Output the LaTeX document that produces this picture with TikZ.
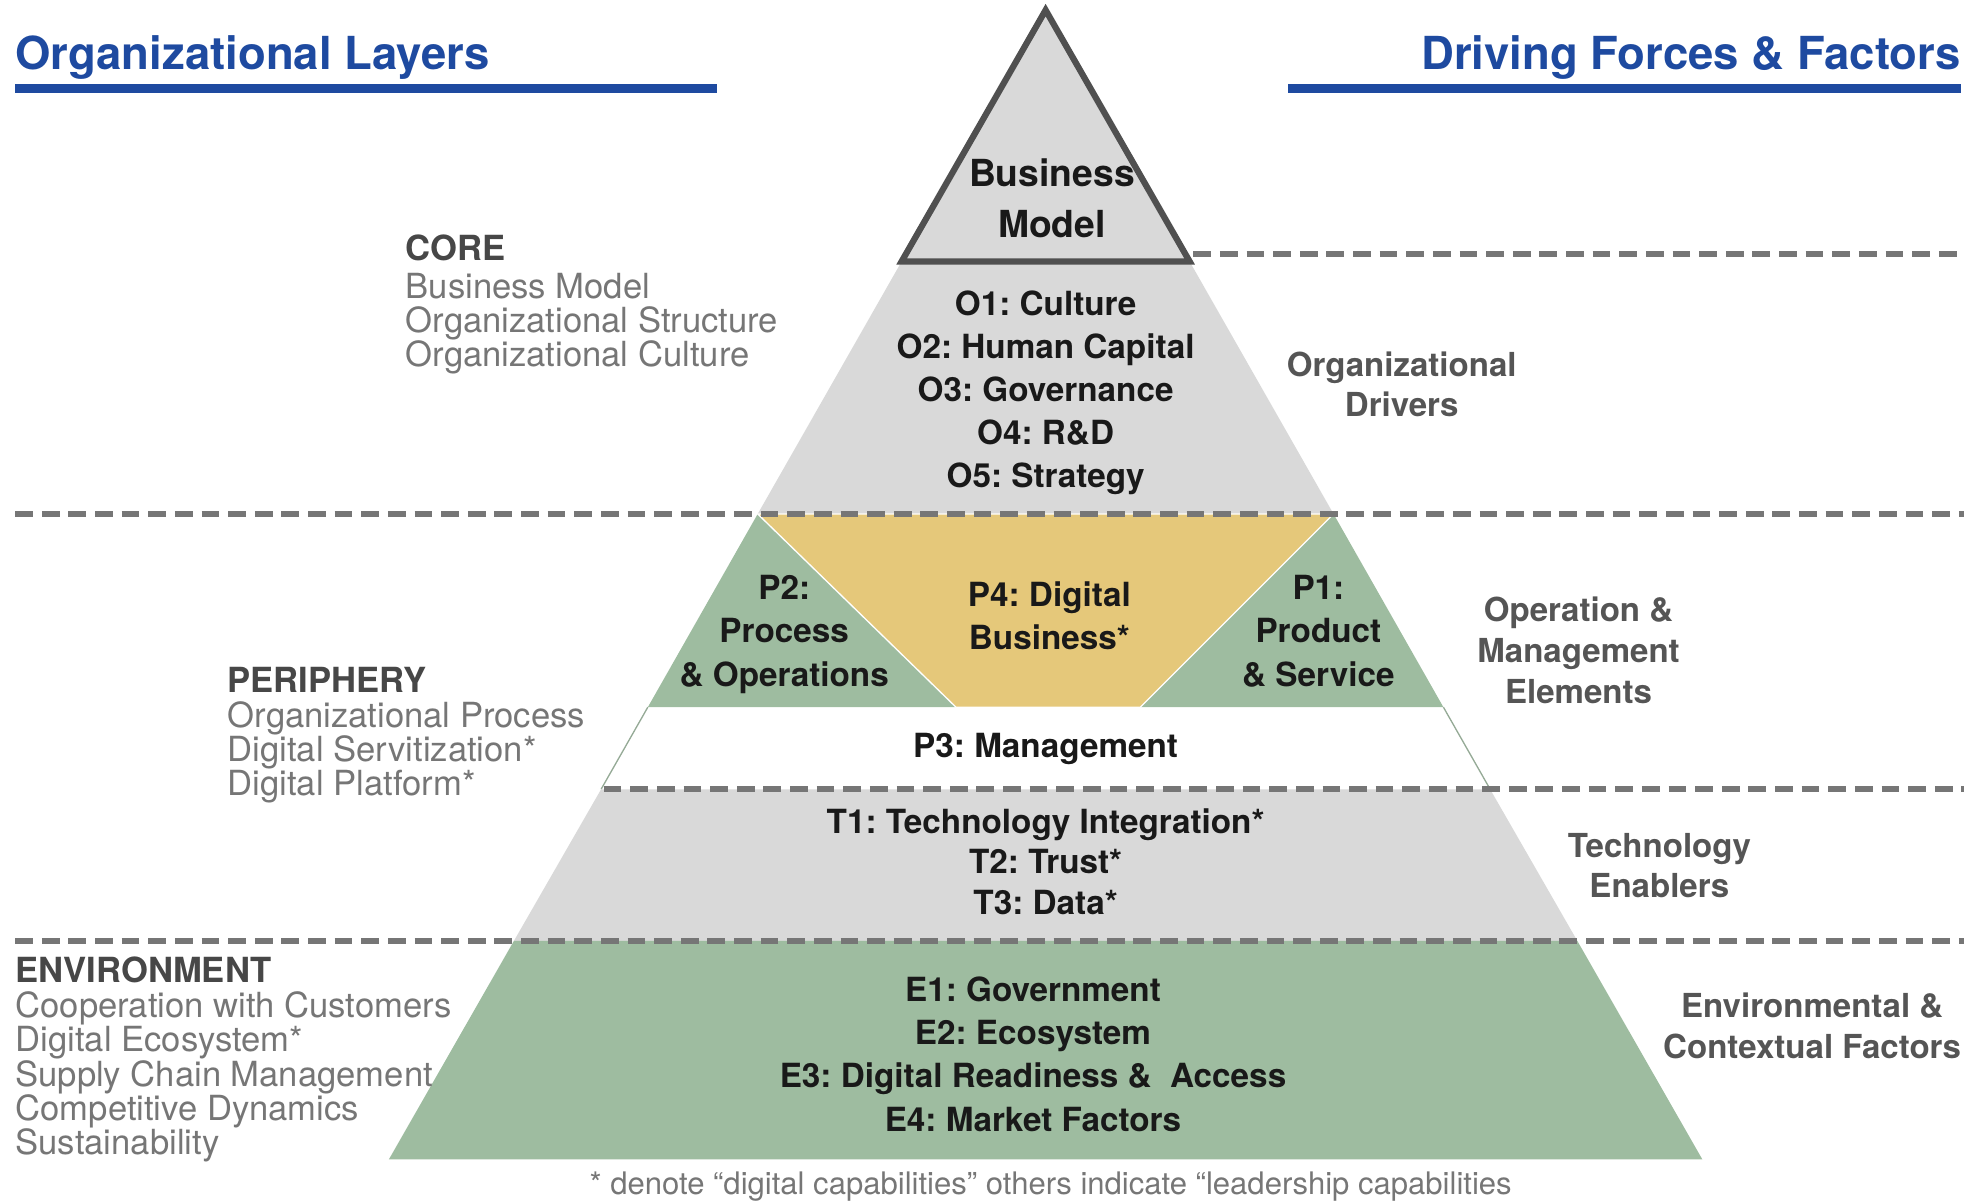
\documentclass[tikz,border=0pt]{standalone}
\usepackage{fontspec}
\setmainfont{TeX Gyre Heros}
\usepackage{tikz}
\frenchspacing

\definecolor{headblue}{RGB}{30,74,160}
\definecolor{dashgray}{RGB}{118,118,118}
\definecolor{pyrgray}{RGB}{217,217,217}
\definecolor{pyrgreen}{RGB}{158,188,160}
\definecolor{pyryellow}{RGB}{229,200,122}
\definecolor{edgegray}{RGB}{80,80,80}
\definecolor{listgray}{RGB}{118,118,118}
\definecolor{drivergray}{RGB}{85,85,85}

\tikzset{
  headtext/.style={text=headblue, font=\fontsize{20.5}{24}\selectfont\bfseries, inner sep=0pt},
  headline/.style={draw=headblue, line width=4pt},
  dashline/.style={draw=dashgray, line width=2.8pt, dash pattern=on 8pt off 4pt},
  pyrtext/.style={font=\fontsize{15}{18}\selectfont\bfseries, text=black!90, inner sep=0pt, anchor=base},
  layerhead/.style={font=\fontsize{15.6}{18}\selectfont\bfseries, text=black!72, inner sep=0pt, anchor=base west},
  layerlist/.style={font=\fontsize{15.6}{18}\selectfont, text=listgray, inner sep=0pt, anchor=base west},
  drivertext/.style={font=\fontsize{14.9}{18}\selectfont\bfseries, text=drivergray, inner sep=0pt, anchor=base},
}

\begin{document}
\begin{tikzpicture}[x=0.02cm, y=-0.02cm]
  \useasboundingbox (0,0) rectangle (1560,952);

  % pyramid corners
  \coordinate (apex) at (828,8);
  \coordinate (bmL) at (714,207);   \coordinate (bmR) at (942,207);
  \coordinate (orgL) at (600,407);  \coordinate (orgR) at (1056,407);
  \coordinate (perL) at (513,560);  \coordinate (perR) at (1143,560);
  \coordinate (digL) at (757,560);  \coordinate (digR) at (903,560);
  \coordinate (manL) at (476,625);  \coordinate (manR) at (1180,625);
  \coordinate (tecL) at (407,745);  \coordinate (tecR) at (1249,745);
  \coordinate (envL) at (308,918);  \coordinate (envR) at (1348,918);

  % layers
  \fill[pyrgray] (bmL) -- (bmR) -- (orgR) -- (orgL) -- cycle;
  \fill[pyrgreen] (orgL) -- (digL) -- (perL) -- cycle;
  \fill[pyrgreen] (orgR) -- (digR) -- (perR) -- cycle;
  \filldraw[fill=pyryellow, draw=white, line width=0.6pt] (orgL) -- (orgR) -- (digR) -- (digL) -- cycle;
  \draw[pyrgreen!70!gray, line width=0.6pt] (perL) -- (manL) (perR) -- (manR);
  \fill[pyrgray] (manL) -- (manR) -- (tecR) -- (tecL) -- cycle;
  \fill[pyrgreen] (tecL) -- (tecR) -- (envR) -- (envL) -- cycle;
  \filldraw[fill=pyrgray, draw=edgegray, line width=2.8pt, line join=miter] (apex) -- (bmR) -- (bmL) -- cycle;

  % headings
  \node[headtext, anchor=base west] (orglayers) at (12,55) {Organizational Layers};
  \node[headtext, anchor=base east] (forces) at (1553,55) {Driving Forces \& Factors};
  \draw[headline] (12,70) -- (568,70);
  \draw[headline] (1020,70) -- (1553,70);

  % layer borders
  \draw[dashline] (945,201) -- (1555,201);
  \draw[dashline] (12,407) -- (1555,407);
  \draw[dashline] (478,625) -- (1555,625);
  \draw[dashline] (12,745) -- (1555,745);

  % pyramid text
  \node[pyrtext, font=\fontsize{16.8}{20}\selectfont\bfseries] (bm1) at (833,148) {Business};
  \node[pyrtext, font=\fontsize{16.8}{20}\selectfont\bfseries] (bm2) at (833,188) {Model};
  \foreach \txt/\y [count=\i] in {O1: Culture/250, O2: Human Capital/284, O3: Governance/318, O4: R\&D/352, O5: Strategy/386}
    \node[pyrtext] (o\i) at (828,\y) {\txt};
  \foreach \txt/\y [count=\i] in {P2:/475, Process/509, \& Operations/544}
    \node[pyrtext] (ptwo\i) at (621,\y) {\txt};
  \foreach \txt/\y [count=\i] in {P4: Digital/480, Business*/514}
    \node[pyrtext] (pfour\i) at (831,\y) {\txt};
  \foreach \txt/\y [count=\i] in {P1:/475, Product/509, \& Service/544}
    \node[pyrtext] (pone\i) at (1044,\y) {\txt};
  \node[pyrtext] (pthree) at (828,600) {P3: Management};
  \foreach \txt/\y [count=\i] in {T1: Technology Integration*/660, T2: Trust*/692, T3: Data*/724}
    \node[pyrtext] (t\i) at (828,\y) {\txt};
  \foreach \txt/\y [count=\i] in {E1: Government/793, E2: Ecosystem/827, E3: Digital Readiness \&\ \ Access/861, E4: Market Factors/896}
    \node[pyrtext] (e\i) at (818,\y) {\txt};

  % organizational layers (left)
  \node[layerhead] (core) at (321,206) {CORE};
  \foreach \txt/\y [count=\i] in {Business Model/236, Organizational Structure/263, Organizational Culture/290}
    \node[layerlist] (core\i) at (321,\y) {\txt};
  \node[layerhead] (periphery) at (180,548) {PERIPHERY};
  \foreach \txt/\y [count=\i] in {Organizational Process/576, Digital Servitization*/603, Digital Platform*/630}
    \node[layerlist] (periphery\i) at (180,\y) {\txt};
  \node[layerhead] (environment) at (12,778) {ENVIRONMENT};
  \foreach \txt/\y [count=\i] in {Cooperation with Customers/806, Digital Ecosystem*/833, Supply Chain Management/860, Competitive Dynamics/887, Sustainability/914}
    \node[layerlist] (environment\i) at (12,\y) {\txt};

  % driving forces (right)
  \node[drivertext] (drv1) at (1110,298) {Organizational};
  \node[drivertext] (drv2) at (1110,330) {Drivers};
  \node[drivertext] (ops1) at (1250,492) {Operation \&};
  \node[drivertext] (ops2) at (1250,525) {Management};
  \node[drivertext] (ops3) at (1250,557) {Elements};
  \node[drivertext] (tech1) at (1314,679) {Technology};
  \node[drivertext] (tech2) at (1314,711) {Enablers};
  \node[drivertext] (env1) at (1435,806) {Environmental \&};
  \node[drivertext] (env2) at (1435,838) {Contextual Factors};

  % footnote
  \node[font=\fontsize{14}{16}\selectfont, text=listgray, inner sep=0pt, anchor=base] (note) at (832,946)
    {* denote “digital capabilities” others indicate “leadership capabilities};
\end{tikzpicture}
\end{document}
